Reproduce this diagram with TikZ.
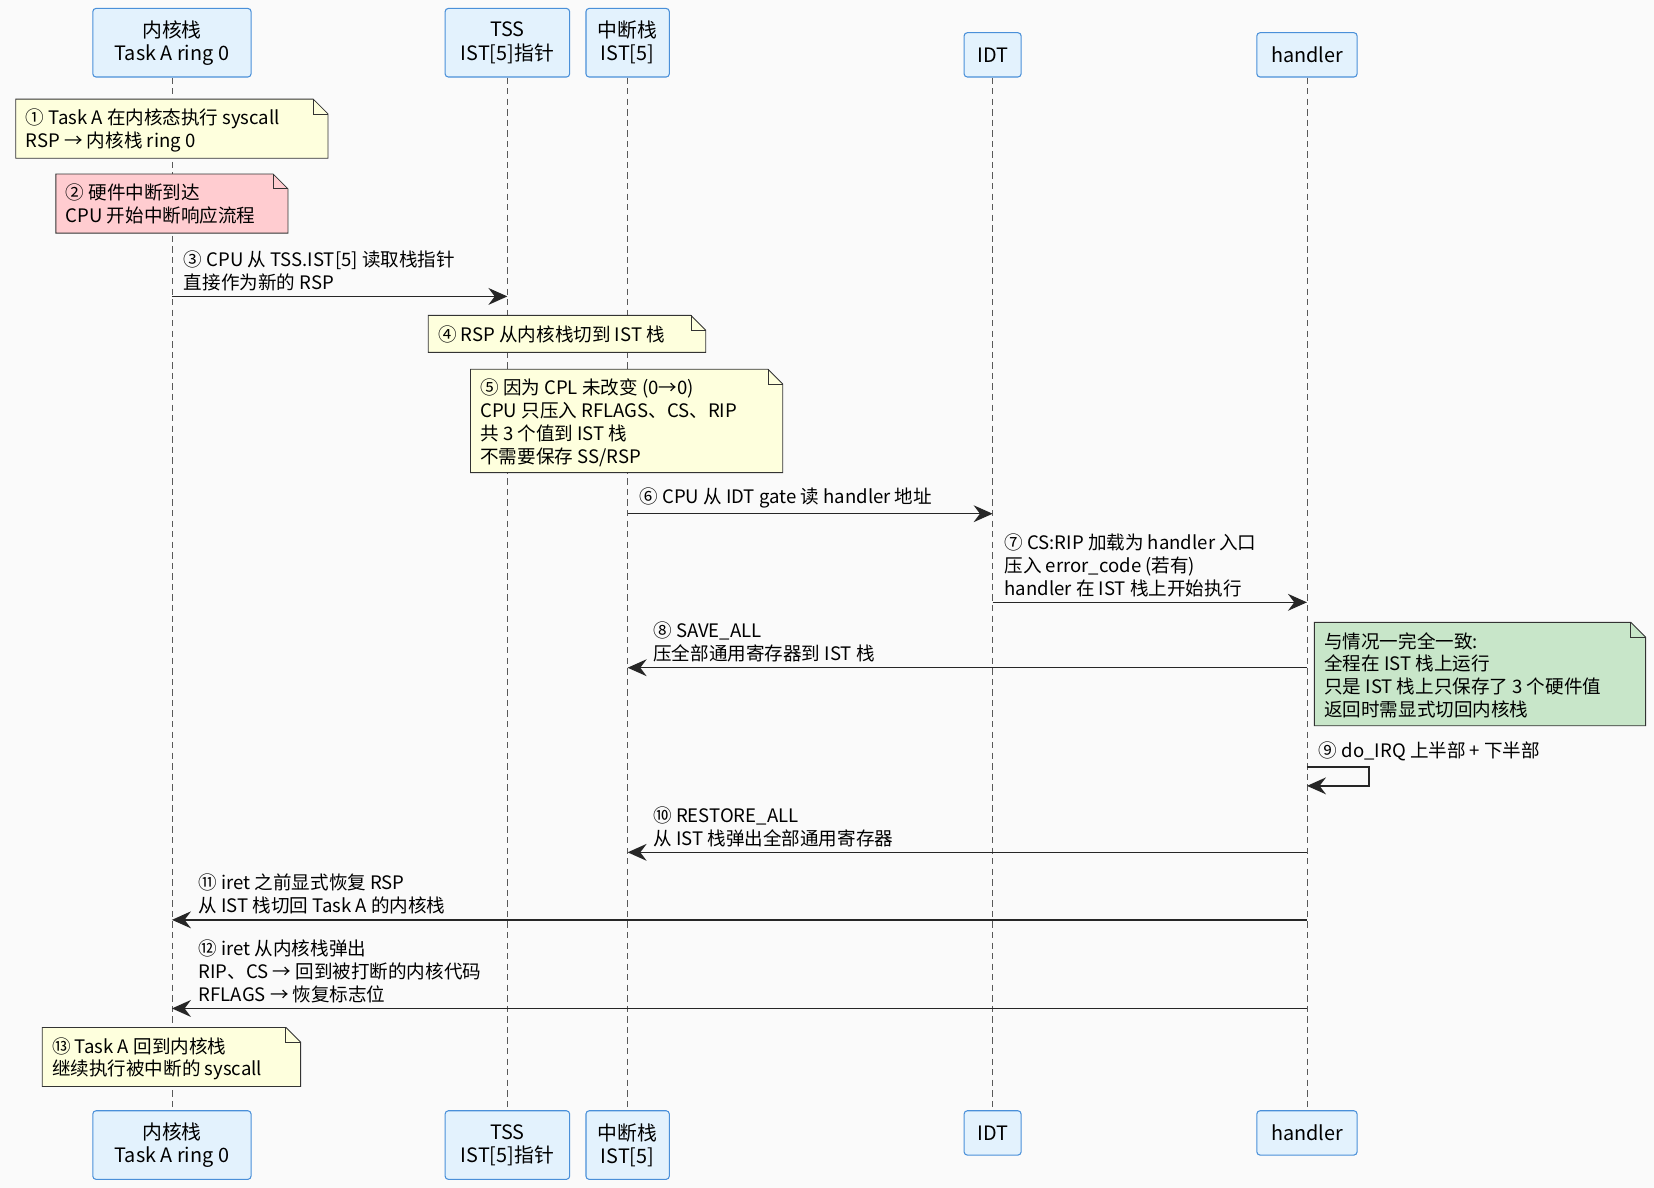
\documentclass[tikz,border=0pt]{standalone}
\usepackage{fontspec}
\setmainfont{Noto Sans CJK SC}
\usetikzlibrary{arrows.meta}
\definecolor{bg}{HTML}{FAFAFA}
\definecolor{pbox}{HTML}{E3F2FD}
\definecolor{pline}{HTML}{4A90D9}
\definecolor{ny}{HTML}{FEFFDD}
\definecolor{np}{HTML}{FFCCD0}
\definecolor{ng}{HTML}{C8E6C9}
\begin{document}
\begin{tikzpicture}[x=0.5pt,y=-0.5pt,
  font=\fontsize{8.8}{10.8}\selectfont,
  part/.style={draw=pline,fill=pbox,rounded corners=1.5pt,align=center,inner sep=0pt,line width=0.5pt,font=\fontsize{9.4}{11}\selectfont},
  life/.style={draw=gray!70!black,dash pattern=on 3pt off 2pt,line width=0.4pt},
  msg/.style={draw=black!85,line width=0.7pt,-{Stealth[length=9pt,width=8pt,inset=3pt]}},
  lbl/.style={anchor=south west,align=left,inner sep=0pt},
  ntxt/.style={anchor=north west,align=left,inner sep=0pt}]
\fill[bg] (0,0) rectangle (1568,1126);
\useasboundingbox (0,0) rectangle (1568,1126);
% participants
\foreach \n/\x/\w/\t/\tx in {a/163/150/1/{内核栈\\Task A ring 0},b/481/118/1/{TSS\\IST[5]指针},c/595/79/1/{中断栈\\IST[5]},d/941/54/0/{IDT},e/1239/95/0/{handler}}{
  \ifnum\t=1
    \node[part,minimum width=\w*0.5pt,minimum height=32.5pt] (\n t) at (\x,40.5) {\tx};
    \node[part,minimum width=\w*0.5pt,minimum height=32.5pt] (\n b) at (\x,1085.5) {\tx};
  \else
    \node[part,minimum width=\w*0.5pt,minimum height=21pt] (\n t) at (\x,52) {\tx};
    \node[part,minimum width=\w*0.5pt,minimum height=21pt] (\n b) at (\x,1074) {\tx};
  \fi
  \draw[life] (\n t.south) -- (\x,1053);
}
% notes
\newcommand\mynote[7]{%
  \draw[black!80,fill=#6,line width=0.4pt] (#2,#3) -- (#4-14,#3) -- (#4,#3+14) -- (#4,#5) -- (#2,#5) -- cycle;
  \draw[black!80,line width=0.4pt] (#4-14,#3) -- (#4-14,#3+14) -- (#4,#3+14);
  \node[ntxt] (#1) at (#2+9,#3+9) {#7};}
\mynote{n1}{15}{94}{311}{150}{ny}{① Task A 在内核态执行 syscall\\RSP → 内核栈 ring 0}
\mynote{n2}{53}{165}{273}{221}{np}{② 硬件中断到达\\CPU 开始中断响应流程}
\mynote{n4}{406}{299}{669}{334}{ny}{④ RSP 从内核栈切到 IST 栈}
\mynote{n5}{446}{350}{742}{448}{ny}{⑤ 因为 CPL 未改变 (0→0)\\CPU 只压入 RFLAGS、CS、RIP\\共 3 个值到 IST 栈\\不需要保存 SS/RSP}
\mynote{ng}{1246}{590}{1560}{688}{ng}{与情况一完全一致:\\全程在 IST 栈上运行\\只是 IST 栈上只保存了 3 个硬件值\\返回时需显式切回内核栈}
\mynote{n13}{40}{974}{285}{1030}{ny}{⑬ Task A 回到内核栈\\继续执行被中断的 syscall}
% messages
\coordinate (a3) at (163,281); \coordinate (b3) at (481,281);
\draw[msg] (a3) -- (b3);
\node[lbl] (l3) at (174,276) {③ CPU 从 TSS.IST[5] 读取栈指针\\直接作为新的 RSP};
\coordinate (c6) at (595,487); \coordinate (d6) at (941,487);
\draw[msg] (c6) -- (d6);
\node[lbl] (l6) at (606,482) {⑥ CPU 从 IDT gate 读 handler 地址};
\coordinate (d7) at (941,571); \coordinate (e7) at (1239,571);
\draw[msg] (d7) -- (e7);
\node[lbl] (l7) at (952,566) {⑦ CS:RIP 加载为 handler 入口\\压入 error\_code (若有)\\handler 在 IST 栈上开始执行};
\coordinate (e8) at (1239,633); \coordinate (c8) at (595,633);
\draw[msg] (e8) -- (c8);
\node[lbl] (l8) at (619,628) {⑧ SAVE\_ALL\\压全部通用寄存器到 IST 栈};
\coordinate (e9) at (1239,727); \coordinate (e9b) at (1239,745);
\draw[msg] (e9) -- (1298,727) -- (1298,745) -- (e9b);
\node[lbl] (l9) at (1250,722) {⑨ do\_IRQ 上半部 + 下半部};
\coordinate (e10) at (1239,808); \coordinate (c10) at (595,808);
\draw[msg] (e10) -- (c10);
\node[lbl] (l10) at (619,803) {⑩ RESTORE\_ALL\\从 IST 栈弹出全部通用寄存器};
\coordinate (e11) at (1239,872); \coordinate (a11) at (163,872);
\draw[msg] (e11) -- (a11);
\node[lbl] (l11) at (188,867) {⑪ iret 之前显式恢复 RSP\\从 IST 栈切回 Task A 的内核栈};
\coordinate (e12) at (1239,956); \coordinate (a12) at (163,956);
\draw[msg] (e12) -- (a12);
\node[lbl] (l12) at (188,951) {⑫ iret 从内核栈弹出\\RIP、CS → 回到被打断的内核代码\\RFLAGS → 恢复标志位};
\end{tikzpicture}
\end{document}
